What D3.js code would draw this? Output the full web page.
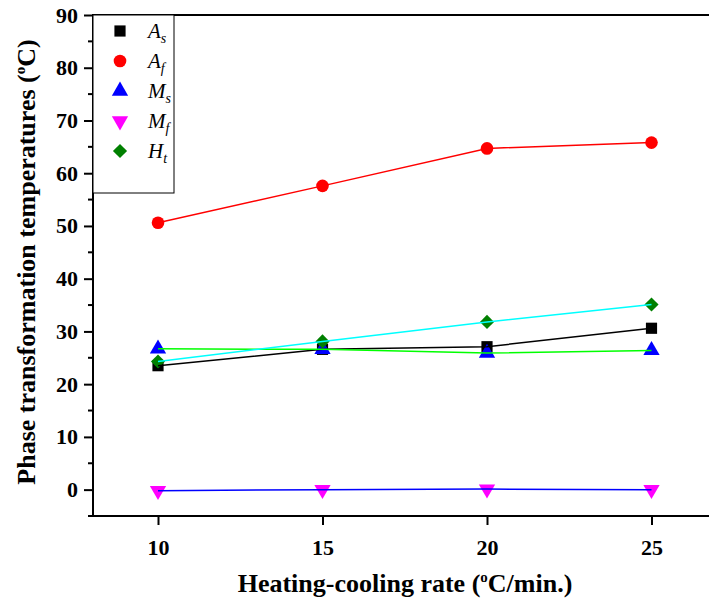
<!DOCTYPE html>
<html>
<head>
<meta charset="utf-8">
<script src="https://cdn.jsdelivr.net/npm/d3@7"></script>
<style>
  body { margin: 0; background: #fff; }
  svg { display: block; }
  svg text { font-family: "Liberation Serif", "Times New Roman", serif; fill: #000; }
</style>
</head>
<body>
<div id="chart"></div>
<script>
// ------ DATA ------
const rates = [10, 15, 20, 25];
const As = [23.5, 26.6, 27.1, 30.6];
const Af = [50.6, 57.6, 64.7, 65.8];
const Ms = [26.7, 26.6, 25.9, 26.4];
const Mf = [-0.2, 0.0, 0.1, 0.0];
const Ht = [24.3, 28.1, 31.8, 35.1];
const yTicks = [0, 10, 20, 30, 40, 50, 60, 70, 80, 90];
const yMinor = [-5, 5, 15, 25, 35, 45, 55, 65, 75, 85];

// series: marker colour, line colour, marker shape, label (main + subscript)
const series = [
  {name: 'A', sub: 's', vals: As, fill: '#000000', line: '#000000', shape: d3.symbolSquare, size: 125, rot: 0},
  {name: 'A', sub: 'f', vals: Af, fill: '#ff0000', line: '#ff0000', shape: d3.symbolCircle, size: 125, rot: 0},
  {name: 'M', sub: 's', vals: Ms, fill: '#0000ff', line: '#00ff00', shape: d3.symbolTriangle, size: 115, rot: 0},
  {name: 'M', sub: 'f', vals: Mf, fill: '#ff00ff', line: '#0000ff', shape: d3.symbolTriangle, size: 115, rot: 180},
  {name: 'H', sub: 't', vals: Ht, fill: '#008000', line: '#00ffff', shape: d3.symbolSquare, size: 100, rot: 45}
];

// ------ LAYOUT ------
const W = 709, H = 602;
const plotLeft = 93, plotTop = 15, plotBottom = 516;

const svg = d3.select('#chart').append('svg')
  .attr('width', W).attr('height', H);

const x = d3.scaleLinear().domain([10, 25]).range([158, 651.5]);
const y = d3.scaleLinear().domain([-5, 90]).range([plotBottom, plotTop]);

// frame: left, bottom, top (right side runs off the page)
svg.append('line').attr('x1', plotLeft).attr('x2', W).attr('y1', plotTop).attr('y2', plotTop)
  .attr('stroke', '#000').attr('stroke-width', 2);

// Y axis
const yAxis = svg.append('g').attr('transform', `translate(${plotLeft},0)`)
  .call(d3.axisLeft(y).tickValues(yTicks).tickSize(9).tickPadding(6).tickFormat(d3.format('d')));
yAxis.attr('font-family', null).attr('font-size', null);
yAxis.select('.domain').remove();
yAxis.selectAll('.tick line').attr('stroke-width', 2);
yAxis.selectAll('.tick text').attr('font-size', 22).attr('font-weight', 'bold');
svg.append('g').selectAll('line').data(yMinor).join('line')
  .attr('x1', plotLeft - 5).attr('x2', plotLeft)
  .attr('y1', d => y(d)).attr('y2', d => y(d))
  .attr('stroke', '#000').attr('stroke-width', 2);
svg.append('line').attr('x1', plotLeft).attr('x2', plotLeft).attr('y1', plotTop - 1).attr('y2', plotBottom + 1)
  .attr('stroke', '#000').attr('stroke-width', 2);

// X axis
const xAxis = svg.append('g').attr('transform', `translate(0,${plotBottom})`)
  .call(d3.axisBottom(x).tickValues(rates).tickSize(9).tickPadding(14).tickFormat(d3.format('d')));
xAxis.attr('font-family', null).attr('font-size', null);
xAxis.select('.domain').remove();
xAxis.selectAll('.tick line').attr('stroke-width', 2);
xAxis.selectAll('.tick text').attr('font-size', 22).attr('font-weight', 'bold');
svg.append('line').attr('x1', plotLeft - 1).attr('x2', W).attr('y1', plotBottom).attr('y2', plotBottom)
  .attr('stroke', '#000').attr('stroke-width', 2);

// ------ MARKS ------
const markG = svg.append('g');
series.forEach(s => {
  markG.append('g').selectAll('path').data(s.vals).join('path')
    .attr('d', d3.symbol().type(s.shape).size(s.size))
    .attr('transform', (d, i) => `translate(${x(rates[i])},${y(d)}) rotate(${s.rot})`)
    .attr('fill', s.fill);
});
const line = d3.line().x((d, i) => x(rates[i])).y(d => y(d));
series.forEach(s => {
  markG.append('path').datum(s.vals)
    .attr('d', line)
    .attr('fill', 'none').attr('stroke', s.line).attr('stroke-width', 1.5);
});

// ------ LEGEND ------
const legend = svg.append('g');
legend.append('rect').attr('x', plotLeft).attr('y', plotTop).attr('width', 81).attr('height', 178)
  .attr('fill', '#fff').attr('stroke', '#000').attr('stroke-width', 1);
series.forEach((s, i) => {
  const ly = plotTop + 16 + i * 30;
  legend.append('path')
    .attr('d', d3.symbol().type(s.shape).size(s.size))
    .attr('transform', `translate(120,${ly}) rotate(${s.rot})`)
    .attr('fill', s.fill);
  const t = legend.append('text').attr('x', 148).attr('y', ly + 7)
    .attr('font-size', 21).attr('font-style', 'italic');
  t.append('tspan').text(s.name);
  t.append('tspan').attr('font-size', 14).attr('dy', 5).text(s.sub);
});

// ------ AXIS TITLES ------
const xt = svg.append('text').attr('x', 405).attr('y', 592).attr('text-anchor', 'middle')
  .attr('font-size', 26).attr('font-weight', 'bold');
xt.append('tspan').text('Heating-cooling rate (');
xt.append('tspan').attr('font-size', 15).attr('dy', -10).text('o');
xt.append('tspan').attr('dy', 10).text('C/min.)');

const yt = svg.append('text').attr('transform', 'translate(35,262) rotate(-90)')
  .attr('text-anchor', 'middle').attr('font-size', 26).attr('font-weight', 'bold');
yt.append('tspan').text('Phase transformation temperatures (');
yt.append('tspan').attr('font-size', 15).attr('dy', -10).text('o');
yt.append('tspan').attr('dy', 10).text('C)');
</script>
</body>
</html>
